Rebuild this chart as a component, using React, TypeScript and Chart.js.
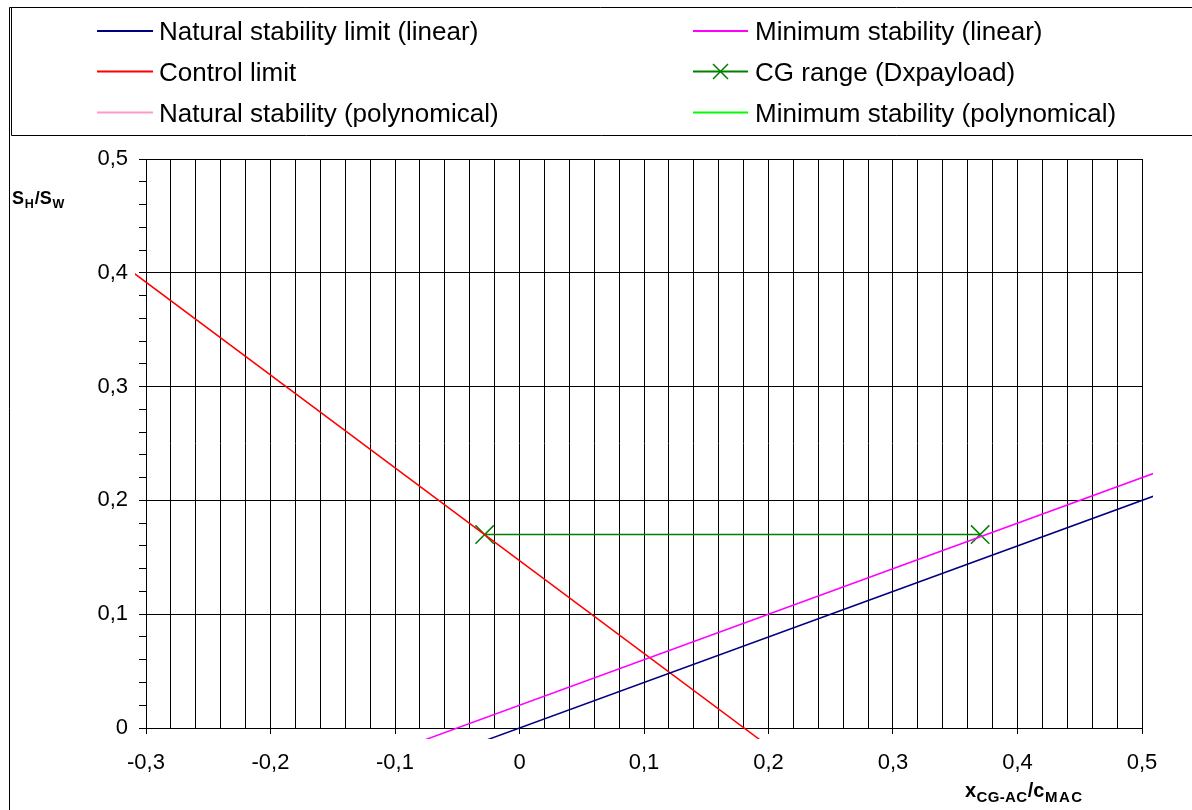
import React, { useEffect, useRef } from 'react';
import { Chart, registerables } from 'chart.js';

Chart.register(...registerables);

const FONT = "'Liberation Sans', Arial, Helvetica, sans-serif";

// ---- data ----
const naturalLinearX = [-0.04, 0.53];
const naturalLinearY = [-0.016, 0.212];
const minimumLinearX = [-0.09, 0.53];
const minimumLinearY = [-0.016, 0.232];
const controlX = [-0.32, 0.2];
const controlY = [0.408, -0.016];
const cgRangeX = [-0.028, 0.37];
const cgRangeY = [0.17, 0.17];
const naturalPolyX: number[] = [];
const naturalPolyY: number[] = [];
const minimumPolyX: number[] = [];
const minimumPolyY: number[] = [];

const seriesLabels = [
  'Natural stability limit (linear)',
  'Minimum stability (linear)',
  'Control limit',
  'CG range (Dxpayload)',
  'Natural stability (polynomical)',
  'Minimum stability (polynomical)',
];

const xTickLabels = ['-0,3', '-0,2', '-0,1', '0', '0,1', '0,2', '0,3', '0,4', '0,5'];
const yTickLabels = ['0', '0,1', '0,2', '0,3', '0,4', '0,5'];

const zip = (xs: number[], ys: number[]) => xs.map((x, i) => ({ x, y: ys[i] }));
const isMajor = (v: number) => Math.abs(v * 10 - Math.round(v * 10)) < 1e-6;

const framePlugin = {
  id: 'framePlugin',
  afterDraw(chart: any) {
    const ctx = chart.ctx as CanvasRenderingContext2D;
    ctx.save();
    ctx.strokeStyle = '#000';
    ctx.lineWidth = 1;
    // outer border
    ctx.beginPath();
    ctx.moveTo(9.5, 810);
    ctx.lineTo(9.5, 7.5);
    ctx.lineTo(1192, 7.5);
    ctx.stroke();
    // legend box
    ctx.beginPath();
    ctx.moveTo(11.5, 8);
    ctx.lineTo(11.5, 135.5);
    ctx.lineTo(1192, 135.5);
    ctx.stroke();

    // legend entries
    const cols = [
      { x0: 97, x1: 153, tx: 159 },
      { x0: 693, x1: 748, tx: 755 },
    ];
    const rows = [31, 71.5, 112.5];
    chart.data.datasets.forEach((ds: any, i: number) => {
      const c = cols[i % 2];
      const r = rows[Math.floor(i / 2)];
      ctx.strokeStyle = ds.borderColor;
      ctx.lineWidth = 2;
      ctx.beginPath();
      ctx.moveTo(c.x0, r);
      ctx.lineTo(c.x1, r);
      ctx.stroke();
      if (ds.pointRadius > 0) {
        const cx = (c.x0 + c.x1) / 2;
        const h = 7.5;
        ctx.lineWidth = 1.5;
        ctx.beginPath();
        ctx.moveTo(cx - h, r - h);
        ctx.lineTo(cx + h, r + h);
        ctx.moveTo(cx + h, r - h);
        ctx.lineTo(cx - h, r + h);
        ctx.stroke();
      }
      ctx.fillStyle = '#000';
      ctx.font = `26px ${FONT}`;
      ctx.textBaseline = 'alphabetic';
      ctx.textAlign = 'left';
      ctx.fillText(ds.label, c.tx, r + 9);
    });

    // y axis title  S_H / S_W
    ctx.fillStyle = '#000';
    ctx.textAlign = 'left';
    ctx.textBaseline = 'alphabetic';
    let x = 12;
    const big = `bold 18px ${FONT}`;
    const small = `bold 12.5px ${FONT}`;
    const parts: [string, string, number][] = [
      ['S', big, 204],
      ['H', small, 207.5],
      ['/S', big, 204],
      ['W', small, 207.5],
    ];
    parts.forEach(([t, f, b]) => {
      ctx.font = f;
      ctx.fillText(t, x, b);
      x += ctx.measureText(t).width + 0.8;
    });

    // x axis title  x_CG-AC / c_MAC
    x = 965;
    const bigX = `bold 20px ${FONT}`;
    const smallX = `bold 15px ${FONT}`;
    const partsX: [string, string, number, number][] = [
      ['x', bigX, 797, 0],
      ['CG-AC', smallX, 801.5, 0.3],
      ['/c', bigX, 797, 0],
      ['MAC', smallX, 801.5, 1.5],
    ];
    partsX.forEach(([t, f, b, sp]) => {
      ctx.font = f;
      let xx = x;
      for (const ch of t) {
        ctx.fillText(ch, xx, b);
        xx += ctx.measureText(ch).width + sp;
      }
      x = xx + 0.5;
    });
    ctx.restore();
  },
};

export default function App() {
  const ref = useRef<HTMLCanvasElement | null>(null);

  useEffect(() => {
    if (!ref.current) return;
    const lineBase = { pointRadius: 0, borderWidth: 1.5, fill: false, tension: 0, clip: 11 };
    const chart = new Chart(ref.current, {
      type: 'line',
      data: {
        datasets: [
          { ...lineBase, label: seriesLabels[0], data: zip(naturalLinearX, naturalLinearY), borderColor: '#000080', backgroundColor: '#000080' },
          { ...lineBase, label: seriesLabels[1], data: zip(minimumLinearX, minimumLinearY), borderColor: '#FF00FF', backgroundColor: '#FF00FF' },
          { ...lineBase, label: seriesLabels[2], data: zip(controlX, controlY), borderColor: '#FF0000', backgroundColor: '#FF0000' },
          {
            ...lineBase,
            label: seriesLabels[3],
            data: zip(cgRangeX, cgRangeY),
            borderColor: '#008000',
            backgroundColor: '#008000',
            pointRadius: 13,
            pointStyle: 'crossRot',
            pointBorderWidth: 1.5,
            pointBorderColor: '#008000',
          },
          { ...lineBase, label: seriesLabels[4], data: zip(naturalPolyX, naturalPolyY), borderColor: '#FF99CC', backgroundColor: '#FF99CC' },
          { ...lineBase, label: seriesLabels[5], data: zip(minimumPolyX, minimumPolyY), borderColor: '#00FF00', backgroundColor: '#00FF00' },
        ] as any,
      },
      options: {
        animation: false,
        responsive: false,
        layout: { padding: { left: 0, top: 159, right: 50, bottom: 0 } },
        plugins: {
          legend: { display: false },
          tooltip: { enabled: false },
          title: { display: false },
        },
        scales: {
          x: {
            type: 'linear',
            min: -0.3,
            max: 0.5,
            afterFit: (s: any) => { s.height = 82; },
            border: { color: '#000', width: 1 },
            grid: {
              color: '#000',
              lineWidth: 1,
              tickLength: 6,
              tickColor: (c: any) => (isMajor(c.tick.value) ? '#000' : 'rgba(0,0,0,0)'),
            },
            ticks: {
              stepSize: 0.02,
              autoSkip: false,
              maxRotation: 0,
              minRotation: 0,
              padding: 16,
              color: '#000',
              font: { family: FONT, size: 22 },
              callback: (v: any) => {
                const n = Number(v);
                if (!isMajor(n)) return '';
                return xTickLabels[Math.round((n + 0.3) * 10)] ?? '';
              },
            },
          },
          y: {
            type: 'linear',
            min: 0,
            max: 0.5,
            afterFit: (s: any) => { s.width = 146; },
            border: { color: '#000', width: 1 },
            grid: {
              color: (c: any) => (isMajor(c.tick.value) ? '#000' : 'rgba(0,0,0,0)'),
              lineWidth: 1,
              tickLength: 7,
              tickColor: '#000',
            },
            ticks: {
              stepSize: 0.02,
              autoSkip: false,
              padding: 11,
              color: '#000',
              font: { family: FONT, size: 22 },
              callback: (v: any) => {
                const n = Number(v);
                if (!isMajor(n)) return '';
                return yTickLabels[Math.round(n * 10)] ?? '';
              },
            },
          },
        },
      },
      plugins: [framePlugin],
    });
    return () => chart.destroy();
  }, []);

  return (
    <div style={{ position: 'fixed', left: 0, top: 0, width: 1192, height: 810, background: '#fff' }}>
      <canvas ref={ref} width={1192} height={810} style={{ display: 'block', width: 1192, height: 810 }} />
    </div>
  );
}
